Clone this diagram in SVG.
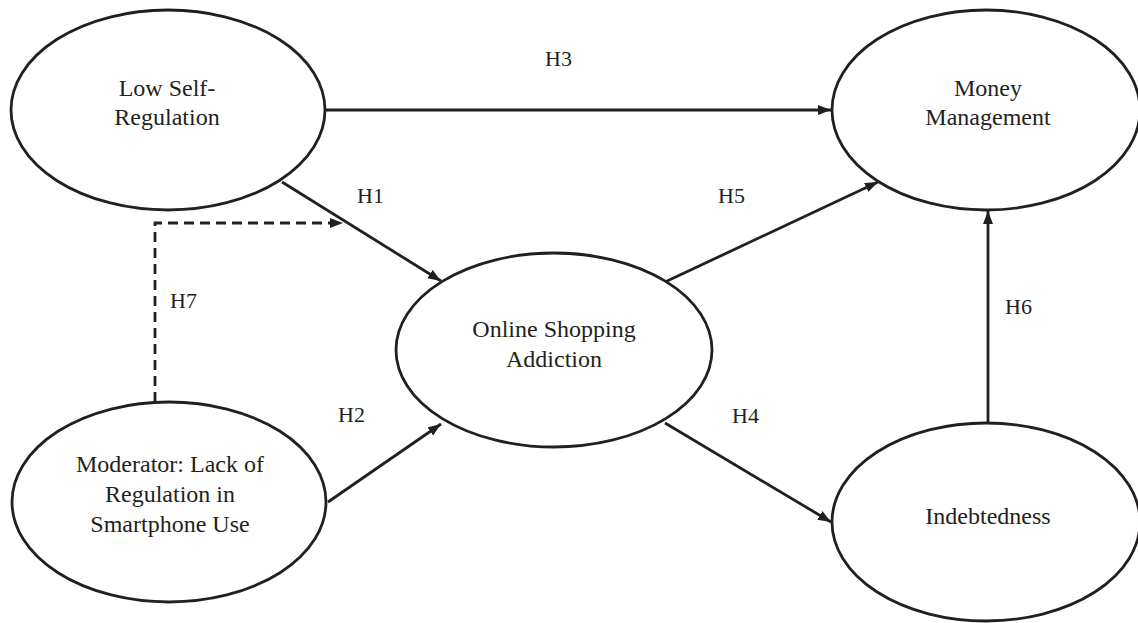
<svg xmlns="http://www.w3.org/2000/svg" width="1138" height="623" viewBox="0 0 1138 623">
<style>
.node ellipse{fill:#fff;stroke:#231f20;stroke-width:2.8}
.node text{font-family:"Liberation Serif","Times New Roman",serif;font-size:24px;fill:#231f20;text-anchor:middle}
.lbl{font-family:"Liberation Serif","Times New Roman",serif;font-size:22px;fill:#231f20}
.edge{fill:none;stroke:#231f20;stroke-width:2.8}
.dash{stroke-dasharray:10 6}
</style>
<defs>
<marker id="ah" markerUnits="userSpaceOnUse" markerWidth="14" markerHeight="12" refX="13" refY="5" orient="auto">
<path d="M0,0 L13,5 L0,10 z" fill="#231f20"/>
</marker>
</defs>
<rect width="1138" height="623" fill="#fff"/>
<g id="connectors">
<line class="edge" x1="326" y1="110" x2="831" y2="110" marker-end="url(#ah)"/>
<line class="edge" x1="282" y1="182" x2="441" y2="281" marker-end="url(#ah)"/>
<line class="edge" x1="328" y1="502" x2="441" y2="424" marker-end="url(#ah)"/>
<line class="edge" x1="665" y1="282" x2="878" y2="182" marker-end="url(#ah)"/>
<line class="edge" x1="665" y1="423" x2="831" y2="522" marker-end="url(#ah)"/>
<line class="edge" x1="988" y1="423" x2="988" y2="211" marker-end="url(#ah)"/>
<path class="edge dash" d="M155,402 V223 H343" marker-end="url(#ah)"/>
<text class="lbl" x="545" y="66">H3</text>
<text class="lbl" x="357" y="203">H1</text>
<text class="lbl" x="718" y="203">H5</text>
<text class="lbl" x="170" y="308">H7</text>
<text class="lbl" x="1005" y="314">H6</text>
<text class="lbl" x="338" y="422">H2</text>
<text class="lbl" x="732" y="423">H4</text>
</g>
<g id="low-self-regulation" class="node">
<ellipse cx="168" cy="110" rx="157" ry="100"/>
<text x="167" y="96">Low Self-</text>
<text x="167" y="125">Regulation</text>
</g>
<g id="money-management" class="node">
<ellipse cx="986" cy="110" rx="154" ry="100"/>
<text x="988" y="96">Money</text>
<text x="988" y="125">Management</text>
</g>
<g id="online-shopping-addiction" class="node">
<ellipse cx="554" cy="350" rx="158" ry="97"/>
<text x="554" y="337">Online Shopping</text>
<text x="554" y="367">Addiction</text>
</g>
<g id="moderator" class="node">
<ellipse cx="169" cy="502" rx="157" ry="100"/>
<text x="170" y="472">Moderator: Lack of</text>
<text x="170" y="502">Regulation in</text>
<text x="170" y="532">Smartphone Use</text>
</g>
<g id="indebtedness" class="node">
<ellipse cx="986" cy="522" rx="154" ry="99"/>
<text x="988" y="524">Indebtedness</text>
</g>
</svg>
